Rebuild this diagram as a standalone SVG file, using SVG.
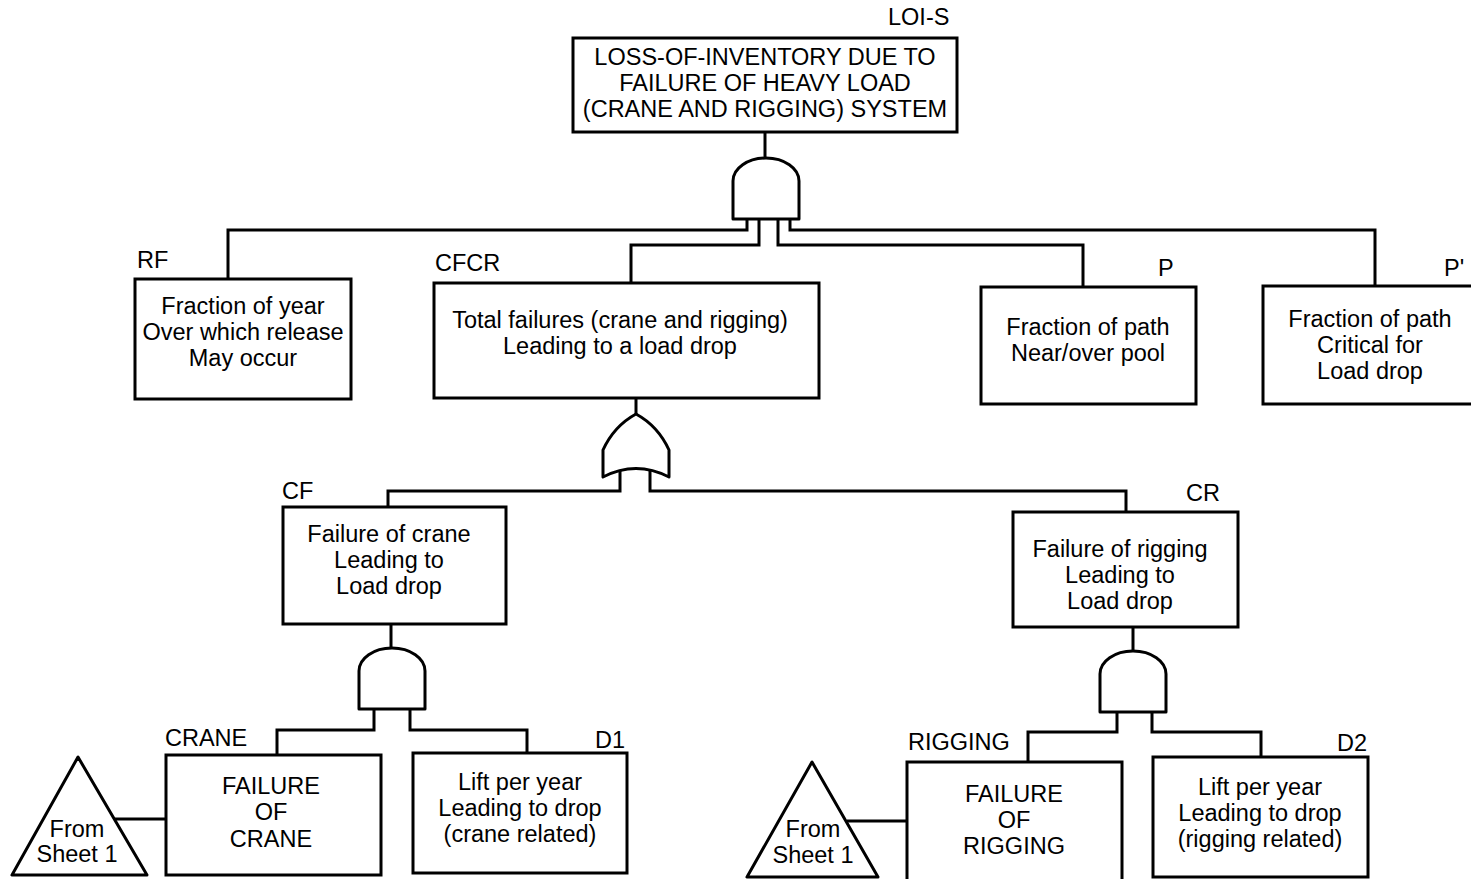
<svg xmlns="http://www.w3.org/2000/svg" width="1471" height="879" viewBox="0 0 1471 879">
<defs>
<style>
.box{fill:#fff;stroke:#000;stroke-width:3}
.gate{fill:#fff;stroke:#000;stroke-width:3;stroke-linejoin:round}
.wire{fill:none;stroke:#000;stroke-width:3}
text{font-family:"Liberation Sans",Arial,Helvetica,sans-serif;font-size:23.5px;fill:#000}
.c{text-anchor:middle}
</style>
<path id="andg" d="M -33,61 V 23 A 33 23 0 0 1 33,23 V 61 Z"/>
<path id="org" d="M -33,63 V 36 Q -22,12 0,0 Q 22,12 33,36 V 63 Q 0,46 -33,63 Z"/>
</defs>
<rect width="1471" height="879" fill="#fff"/>

<g id="connectors">
<polyline class="wire" points="765,132 765,158"/>
<polyline class="wire" points="747,219 747,230 228,230 228,279"/>
<polyline class="wire" points="759,219 759,245 631,245 631,283"/>
<polyline class="wire" points="778,219 778,245 1083,245 1083,287"/>
<polyline class="wire" points="790,219 790,230 1375,230 1375,286"/>
<polyline class="wire" points="636,398 636,414"/>
<polyline class="wire" points="620,470 620,491 388,491 388,507"/>
<polyline class="wire" points="650,470 650,491 1126,491 1126,512"/>
<polyline class="wire" points="391,624 391,648"/>
<polyline class="wire" points="374,708 374,730 277,730 277,755"/>
<polyline class="wire" points="410,708 410,730 527,730 527,753"/>
<polyline class="wire" points="1133,627 1133,651"/>
<polyline class="wire" points="1117,711 1117,732 1028,732 1028,762"/>
<polyline class="wire" points="1152,711 1152,732 1261,732 1261,757"/>
<polyline class="wire" points="115,819 166,819"/>
<polyline class="wire" points="847,821 907,821"/>
</g>

<g id="LOI-S">
<text x="888" y="25">LOI-S</text>
<rect class="box" x="573" y="38" width="384" height="94"/>
<text class="c" x="765" y="65">LOSS-OF-INVENTORY DUE TO</text>
<text class="c" x="765" y="91">FAILURE OF HEAVY LOAD</text>
<text class="c" x="765" y="117">(CRANE AND RIGGING) SYSTEM</text>
</g>

<g id="gate-top"><use href="#andg" class="gate" x="766" y="158"/></g>

<g id="RF">
<text x="137" y="268">RF</text>
<rect class="box" x="135" y="279" width="216" height="120"/>
<text class="c" x="243" y="314">Fraction of year</text>
<text class="c" x="243" y="340">Over which release</text>
<text class="c" x="243" y="366">May occur</text>
</g>

<g id="CFCR">
<text x="435" y="271">CFCR</text>
<rect class="box" x="434" y="283" width="385" height="115"/>
<text class="c" x="620" y="328">Total failures (crane and rigging)</text>
<text class="c" x="620" y="354">Leading to a load drop</text>
</g>

<g id="P">
<text x="1158" y="276">P</text>
<rect class="box" x="981" y="287" width="215" height="117"/>
<text class="c" x="1088" y="335">Fraction of path</text>
<text class="c" x="1088" y="361">Near/over pool</text>
</g>

<g id="P-prime">
<text x="1444" y="276">P'</text>
<rect class="box" x="1263" y="286" width="215" height="118"/>
<text class="c" x="1370" y="327">Fraction of path</text>
<text class="c" x="1370" y="353">Critical for</text>
<text class="c" x="1370" y="379">Load drop</text>
</g>

<g id="gate-or"><use href="#org" class="gate" x="636" y="414"/></g>

<g id="CF">
<text x="282" y="499">CF</text>
<rect class="box" x="283" y="507" width="223" height="117"/>
<text class="c" x="389" y="542">Failure of crane</text>
<text class="c" x="389" y="568">Leading to</text>
<text class="c" x="389" y="594">Load drop</text>
</g>

<g id="CR">
<text x="1186" y="501">CR</text>
<rect class="box" x="1013" y="512" width="225" height="115"/>
<text class="c" x="1120" y="557">Failure of rigging</text>
<text class="c" x="1120" y="583">Leading to</text>
<text class="c" x="1120" y="609">Load drop</text>
</g>

<g id="gate-cf"><use href="#andg" class="gate" x="392" y="648"/></g>
<g id="gate-cr"><use href="#andg" class="gate" x="1133" y="651"/></g>

<g id="CRANE">
<text x="165" y="746">CRANE</text>
<rect class="box" x="166" y="755" width="215" height="120"/>
<text class="c" x="271" y="794">FAILURE</text>
<text class="c" x="271" y="820">OF</text>
<text class="c" x="271" y="847">CRANE</text>
</g>

<g id="D1">
<text x="595" y="748">D1</text>
<rect class="box" x="413" y="753" width="214" height="120"/>
<text class="c" x="520" y="790">Lift per year</text>
<text class="c" x="520" y="816">Leading to drop</text>
<text class="c" x="520" y="842">(crane related)</text>
</g>

<g id="transfer-1">
<polygon class="gate" points="78,757 12,875 147,875"/>
<text class="c" x="77" y="837">From</text>
<text class="c" x="77" y="862">Sheet 1</text>
</g>

<g id="RIGGING">
<text x="908" y="750">RIGGING</text>
<rect class="box" x="907" y="762" width="215" height="122"/>
<text class="c" x="1014" y="802">FAILURE</text>
<text class="c" x="1014" y="828">OF</text>
<text class="c" x="1014" y="854">RIGGING</text>
</g>

<g id="D2">
<text x="1337" y="751">D2</text>
<rect class="box" x="1153" y="757" width="215" height="120"/>
<text class="c" x="1260" y="795">Lift per year</text>
<text class="c" x="1260" y="821">Leading to drop</text>
<text class="c" x="1260" y="847">(rigging related)</text>
</g>

<g id="transfer-2">
<polygon class="gate" points="812,762 747,877 878,877"/>
<text class="c" x="813" y="837">From</text>
<text class="c" x="813" y="863">Sheet 1</text>
</g>
</svg>
